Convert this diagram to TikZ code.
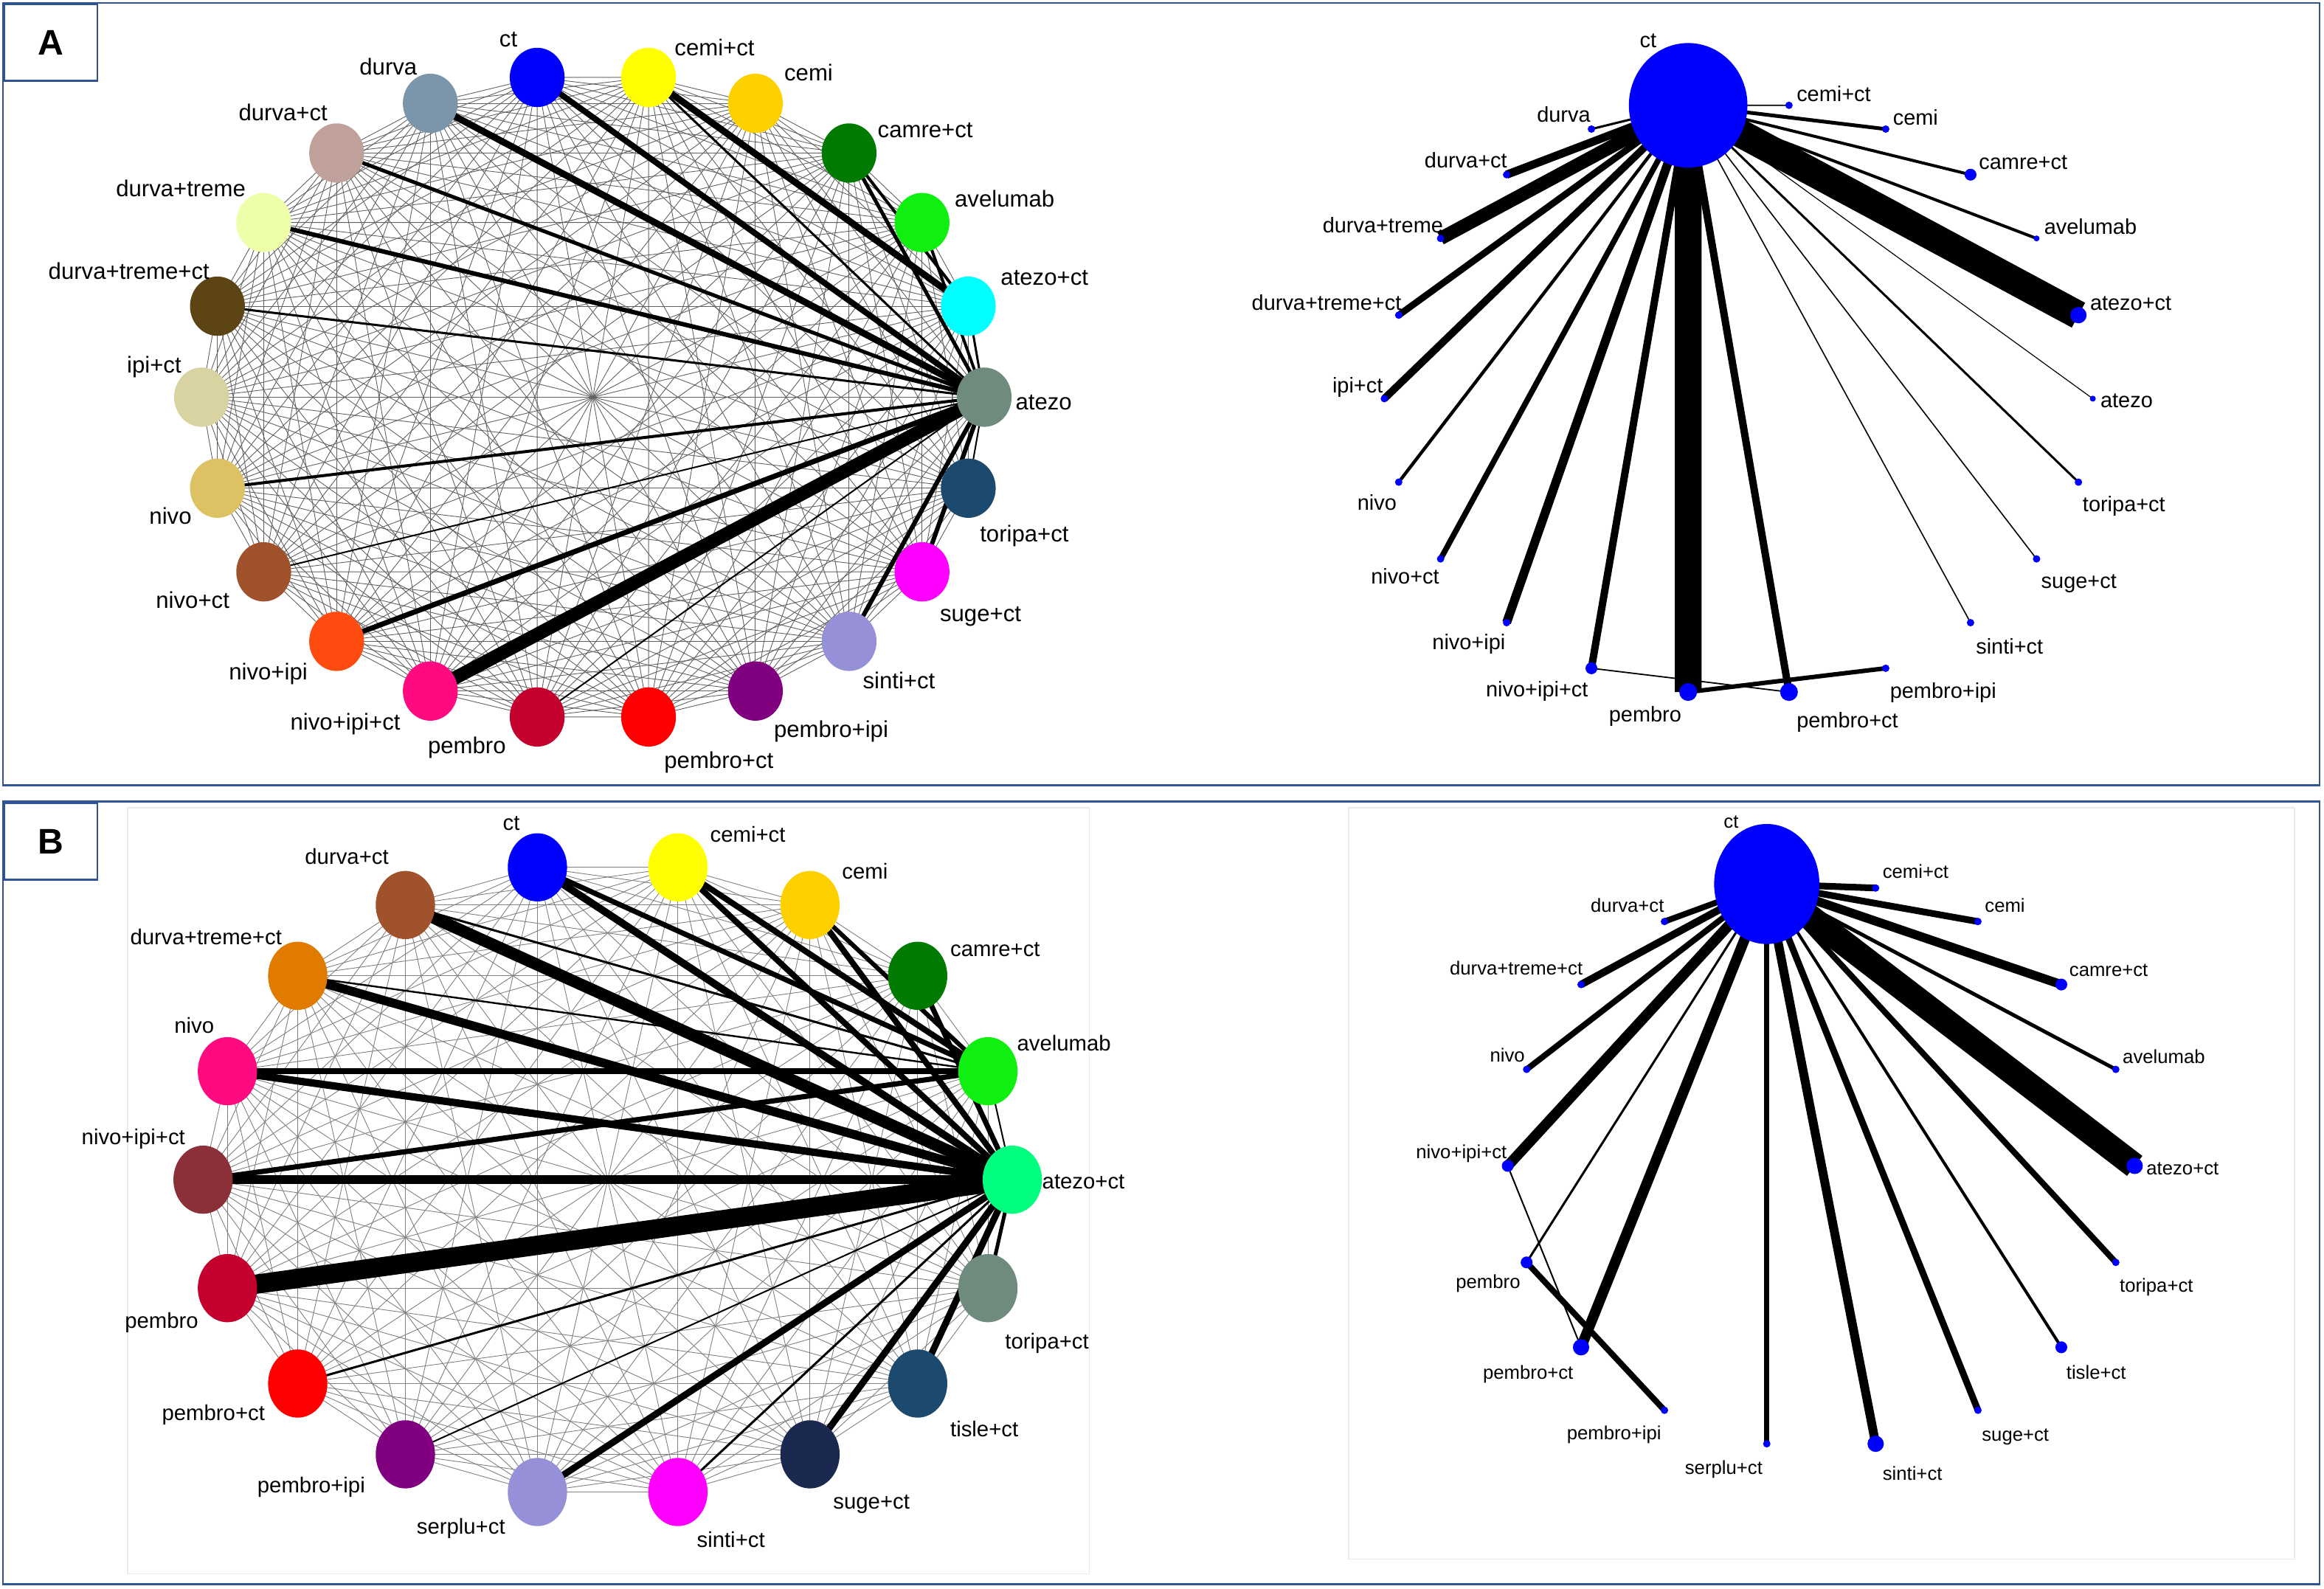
\documentclass[tikz,border=0pt]{standalone}
\usepackage{fontspec}
\setmainfont{Liberation Sans}
\usepackage{tikz}
\usetikzlibrary{shapes.geometric,backgrounds}
\definecolor{panel blue}{HTML}{2F5496}
\definecolor{n-sage}{HTML}{6E8B7D}
\definecolor{n-aqua}{HTML}{00FFFF}
\definecolor{n-lime}{HTML}{10F010}
\definecolor{n-forest}{HTML}{007A00}
\definecolor{n-gold}{HTML}{FFD000}
\definecolor{n-lemon}{HTML}{FFFF00}
\definecolor{n-royal}{HTML}{0000FF}
\definecolor{n-slate}{HTML}{7B95AB}
\definecolor{n-rosy}{HTML}{C0A09A}
\definecolor{n-pale}{HTML}{EEFFAA}
\definecolor{n-umber}{HTML}{5C4414}
\definecolor{n-beige}{HTML}{D8D3A0}
\definecolor{n-khaki}{HTML}{DCC262}
\definecolor{n-sienna}{HTML}{A0522D}
\definecolor{n-flame}{HTML}{FF4A10}
\definecolor{n-hotpink}{HTML}{FF0A80}
\definecolor{n-crimson}{HTML}{C4002F}
\definecolor{n-scarlet}{HTML}{FF0000}
\definecolor{n-plum}{HTML}{800080}
\definecolor{n-lavender}{HTML}{9590D8}
\definecolor{n-fuchsia}{HTML}{FF00FF}
\definecolor{n-navy}{HTML}{1B4A6E}
\definecolor{n-spring}{HTML}{00FF7F}
\definecolor{n-amber}{HTML}{E07B00}
\definecolor{n-maroon}{HTML}{8B3038}
\definecolor{n-midnight}{HTML}{1B2850}

\begin{document}
\begin{tikzpicture}[x=1pt,y=-1pt]
        \tikzset{
            style ring-A/.style={ellipse,inner sep=0pt,minimum width=37pt,minimum height=40pt},
            style ring-B/.style={ellipse,inner sep=0pt,minimum width=40pt,minimum height=46pt},
            style hub-A/.style={ellipse,fill=blue,inner sep=0pt,minimum width=80pt,minimum height=84pt},
            style hub-B/.style={ellipse,fill=blue,inner sep=0pt,minimum width=71pt,minimum height=81pt},
            style dot/.style={circle,fill=blue,inner sep=0pt,minimum size=#1pt},
            style name-Al/.style={inner sep=0pt,text height=11.2pt,text depth=0pt,font=\fontsize{15.5}{16}\selectfont},
            style name-Bl/.style={inner sep=0pt,text height=10.5pt,text depth=0pt,font=\fontsize{14.6}{15}\selectfont},
            style name-Ar/.style={inner sep=0pt,text height=10.4pt,text depth=0pt,font=\fontsize{14.4}{15}\selectfont},
            style name-Br/.style={inner sep=0pt,text height=9.2pt,text depth=0pt,font=\fontsize{12.8}{13}\selectfont},
            style mesh-A/.style={line width=0.45pt,black!62},
            style mesh-B/.style={line width=0.45pt,black!50},
            style trial/.style={line width=#1pt,black},
            style panel/.style={draw=panel blue,line width=1.4pt},
            style plot box/.style={draw=black!8,line width=0.8pt},
            style tag/.style={draw=panel blue,line width=1.4pt,inner sep=0pt,minimum width=63pt,minimum height=52pt,font=\fontsize{24}{24}\selectfont\bfseries}
        };
        \useasboundingbox (0,0) rectangle (1568,1072);
        \draw[style panel] (2,2) rectangle (1565,530);
        \draw[style panel] (2,541) rectangle (1565,1069);
        \draw[style plot box] (86,545) rectangle (735,1062);
        \draw[style plot box] (910,545) rectangle (1548,1052);
        \node[style tag,anchor=north west] (tag-A) at (2,2) {A};
        \node[style tag,anchor=north west] (tag-B) at (2,541) {B};

        \foreach \col/\lab/\tx/\ty/\anc [count=\i from 0] in {
            n-sage/atezo/685/271/west,
            n-aqua/atezo+ct/675/187/west,
            n-lime/avelumab/644/134/west,
            n-forest/camre+ct/592/87/west,
            n-gold/cemi/529/49/west,
            n-lemon/cemi+ct/455/32/west,
            n-royal/ct/343/26/center,
            n-slate/durva/262/45/center,
            n-rosy/durva+ct/191/76/center,
            n-pale/durva+treme/122/127/center,
            n-umber/durva+treme+ct/87/183/center,
            n-beige/ipi+ct/104/246/center,
            n-khaki/nivo/115/348/center,
            n-sienna/nivo+ct/130/405/center,
            n-flame/nivo+ipi/181/453/center,
            n-hotpink/nivo+ipi+ct/233/487/center,
            n-crimson/pembro/315/503/center,
            n-scarlet/pembro+ct/448/513/west,
            n-plum/pembro+ipi/522/492/west,
            n-lavender/sinti+ct/582/459/west,
            n-fuchsia/suge+ct/634/414/west,
            n-navy/toripa+ct/661/360/west}{
            \node[style ring-A,fill=\col] (al-\i) at ({400+264*cos(\i*360/22)},{268-218*sin(\i*360/22)}) {};
            \node[style name-Al,anchor=\anc] (al-\i-t) at (\tx,\ty) {\lab};
        }

        \foreach \col/\lab/\tx/\ty/\anc [count=\i from 0] in {
            n-spring/atezo+ct/703/797/west,
            n-lime/avelumab/686/704/west,
            n-forest/camre+ct/641/640/west,
            n-gold/cemi/568/588/west,
            n-lemon/cemi+ct/479/563/west,
            n-royal/ct/345/555/center,
            n-sienna/durva+ct/234/578/center,
            n-amber/durva+treme+ct/139/632/center,
            n-hotpink/nivo/131/692/center,
            n-maroon/nivo+ipi+ct/90/767/center,
            n-crimson/pembro/109/891/center,
            n-scarlet/pembro+ct/144/953/center,
            n-plum/pembro+ipi/210/1002/center,
            n-lavender/serplu+ct/311/1030/center,
            n-fuchsia/sinti+ct/470/1039/west,
            n-midnight/suge+ct/562/1013/west,
            n-navy/tisle+ct/641/964/west,
            n-sage/toripa+ct/678/905/west}{
            \node[style ring-B,fill=\col] (bl-\i) at ({410+273*cos(\i*20)},{796-214*sin(\i*20)}) {};
            \node[style name-Bl,anchor=\anc] (bl-\i-t) at (\tx,\ty) {\lab};
        }

        \node[style hub-A] (ar-6) at ({1173+239*cos(6*360/22)},{269-200*sin(6*360/22)}) {};
        \node[style name-Ar] (ar-6-t) at (1112,27) {ct};
        \foreach \k/\lab/\sz/\tx/\ty/\anc in {
            0/atezo/4/1417/270/west,
            1/atezo+ct/11/1410/204/west,
            2/avelumab/4/1379/153/west,
            3/camre+ct/8/1335/109/west,
            4/cemi/5/1277/79/west,
            5/cemi+ct/5/1212/63/west,
            7/durva/5/1055/77/center,
            8/durva+ct/5/989/108/center,
            9/durva+treme/5/933/152/center,
            10/durva+treme+ct/5/895/204/center,
            11/ipi+ct/5/916/260/center,
            12/nivo/5/929/339/center,
            13/nivo+ct/5/948/389/center,
            14/nivo+ipi/5/991/433/center,
            15/nivo+ipi+ct/8/1037/465/center,
            16/pembro/12/1110/482/center,
            17/pembro+ct/12/1212/486/west,
            18/pembro+ipi/5/1275/466/west,
            19/sinti+ct/5/1333/436/west,
            20/suge+ct/5/1377/392/west,
            21/toripa+ct/5/1405/340/west}{
            \node[style dot=\sz] (ar-\k) at ({1173+239*cos(\k*360/22)},{269-200*sin(\k*360/22)}) {};
            \node[style name-Ar,anchor=\anc] (ar-\k-t) at (\tx,\ty) {\lab};
        }

        \node[style hub-B] (br-5) at ({1228.75+211.5*cos(100)},{784-190.4*sin(100)}) {};
        \node[style name-Br] (br-5-t) at (1168,554) {ct};
        \foreach \k/\lab/\sz/\tx/\ty/\anc in {
            0/atezo+ct/11/1448/788/west,
            1/avelumab/5/1432/713/west,
            2/camre+ct/8/1396/654/west,
            3/cemi/5/1339/611/west,
            4/cemi+ct/5/1270/588/west,
            6/durva+ct/5/1098/611/center,
            7/durva+treme+ct/5/1023/653/center,
            8/nivo/5/1017/712/center,
            9/nivo+ipi+ct/8/986/777/center,
            10/pembro/8/1004/865/center,
            11/pembro+ct/11/1031/926/center,
            12/pembro+ipi/5/1089/967/center,
            13/serplu+ct/5/1163/990/center,
            14/sinti+ct/11/1270/994/west,
            15/suge+ct/5/1337/968/west,
            16/tisle+ct/8/1394/926/west,
            17/toripa+ct/5/1430/867/west}{
            \node[style dot=\sz] (br-\k) at ({1228.75+211.5*cos(\k*20)},{786.7-190.4*sin(\k*20)}) {};
            \node[style name-Br,anchor=\anc] (br-\k-t) at (\tx,\ty) {\lab};
        }

        \begin{scope}[on background layer]
            \foreach \i in {0,...,20} {
                \pgfmathtruncatemacro\nxt{\i+1}
                \foreach \j in {\nxt,...,21} {\draw[style mesh-A] (al-\i.center) -- (al-\j.center);}
            }
            \foreach \i in {0,...,16} {
                \pgfmathtruncatemacro\nxt{\i+1}
                \foreach \j in {\nxt,...,17} {\draw[style mesh-B] (bl-\i.center) -- (bl-\j.center);}
            }
            \foreach \a/\b/\w in {0/1/1.5, 0/2/2, 0/3/2.5, 0/5/1.5, 0/6/4, 0/7/4.5, 0/8/2.5, 0/9/3,
                0/10/1.5, 0/12/2, 0/13/1, 0/14/3.5, 0/15/9, 0/16/1, 0/19/3, 0/20/3, 0/21/1, 5/1/4.5, 3/1/2}
                \draw[style trial=\w] (al-\a.center) -- (al-\b.center);
            \foreach \a/\b/\w in {0/1/1, 0/2/3.5, 0/3/4, 0/4/4, 0/5/5, 0/6/8, 0/7/6, 0/8/5, 0/9/6,
                0/10/13, 0/11/1.5, 0/12/1, 0/13/4.5, 0/14/1.5, 0/15/4.5, 0/16/4.5, 0/17/2.5,
                1/3/3, 1/4/4, 1/5/3.5, 1/6/1.5, 1/7/1.2, 1/8/4, 1/9/3.5}
                \draw[style trial=\w] (bl-\a.center) -- (bl-\b.center);
            \foreach \a/\b/\w in {6/0/0.6, 6/1/19, 6/2/2, 6/3/2, 6/4/2.5, 6/5/0.8, 6/7/1.5, 6/8/5.5,
                6/9/9, 6/10/4.5, 6/11/5, 6/12/2.2, 6/13/3.8, 6/14/6, 6/15/5, 6/16/18, 6/17/5,
                6/19/0.8, 6/20/0.8, 6/21/1.5, 15/17/0.9, 16/18/3}
                \draw[style trial=\w] (ar-\a.center) -- (ar-\b.center);
            \foreach \a/\b/\w in {5/0/17, 5/1/2.5, 5/2/6, 5/3/4.5, 5/4/4.5, 5/6/4, 5/7/5, 5/8/4,
                5/9/7, 5/10/1.5, 5/11/7, 5/13/3.5, 5/14/6, 5/15/4.5, 5/16/2, 5/17/4, 9/11/1, 10/12/4}
                \draw[style trial=\w] (br-\a.center) -- (br-\b.center);
        \end{scope}
\end{tikzpicture}
\end{document}
